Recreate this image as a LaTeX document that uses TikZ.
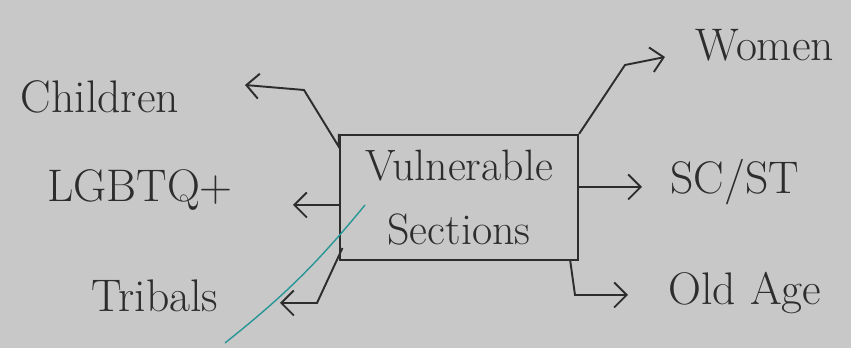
\documentclass[tikz,border=0pt]{standalone}
\usetikzlibrary{arrows.meta}
\definecolor{paper}{RGB}{200,200,200}
\definecolor{ink}{RGB}{45,45,45}
\definecolor{pen}{RGB}{40,150,150}
\tikzset{
  lbl/.style={text=ink,font=\fontsize{26}{30}\selectfont},
  sectbox/.style={draw=ink,line width=1.2pt,minimum width=4.76cm,minimum height=2.5cm,align=center,
    font=\fontsize{25}{36}\selectfont,text=ink},
  link/.style={draw=ink,line width=1.1pt,-{Straight Barb[length=2.5mm,width=5mm]}}
}
\begin{document}
\begin{tikzpicture}
      \fill[paper] (0,0) rectangle (17.02,6.96);
      \useasboundingbox (0,0) rectangle (17.02,6.96);
      \draw
        (9.18,3.01) node[sectbox] (vs){Vulnerable\\Sections}
        (2.0,5.02) node[lbl] (ch){Children}
        (2.8,3.16) node[lbl] (lg){LGBTQ+}
        (3.1,1.04) node[lbl] (tr){Tribals}
        (15.3,6.06) node[lbl] (wo){Women}
        (14.7,3.32) node[lbl] (sc){SC/ST}
        (14.9,1.1) node[lbl] (oa){Old Age};
      % arrow ends
      \coordinate (ch-end) at (4.9,5.26);
      \coordinate (lg-end) at (5.86,2.86);
      \coordinate (tr-end) at (5.6,0.9);
      \coordinate (wo-end) at (13.3,5.82);
      \coordinate (sc-end) at (12.84,3.22);
      \coordinate (oa-end) at (12.56,1.06);
      \begin{scope}[link]
        \draw (vs.north west) -- ++(0,-0.26) -- (6.08,5.16) -- (ch-end);
        \draw (vs.west |- lg-end) -- (lg-end);
        \draw ([xshift=2pt]vs.south west) ++(0,0.26) -- (6.34,0.9) -- (tr-end);
        \draw (vs.north east) -- (12.5,5.66) -- (wo-end);
        \draw (vs.east |- sc-end) -- (sc-end);
        \draw ([xshift=-5pt]vs.south east) -- (11.5,1.06) -- (oa-end);
      \end{scope}
      % stray pen stroke
      \draw[pen,line width=0.8pt] (4.5,0.1) to[bend right=6] (7.3,2.86);
    \end{tikzpicture}
\end{document}
